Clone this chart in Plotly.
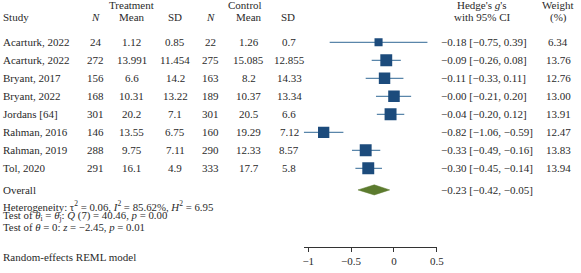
import plotly.graph_objects as go

# ---- data ----
studies = ["Acarturk, 2022", "Acarturk, 2022", "Bryant, 2017", "Bryant, 2022",
           "Jordans [64]", "Rahman, 2016", "Rahman, 2019", "Tol, 2020"]
t_n = [24, 272, 156, 168, 301, 146, 288, 291]
t_mean = ["1.12", "13.991", "6.6", "10.31", "20.2", "13.55", "9.75", "16.1"]
t_sd = ["0.85", "11.454", "14.2", "13.22", "7.1", "6.75", "7.11", "4.9"]
c_n = [22, 275, 163, 189, 301, 160, 290, 333]
c_mean = ["1.26", "15.085", "8.2", "10.37", "20.5", "19.29", "12.33", "17.7"]
c_sd = ["0.7", "12.855", "14.33", "13.34", "6.6", "7.12", "8.57", "5.8"]
g = [-0.18, -0.09, -0.11, -0.0, -0.04, -0.82, -0.33, -0.30]
lo = [-0.75, -0.26, -0.33, -0.21, -0.20, -1.06, -0.49, -0.45]
hi = [0.39, 0.08, 0.11, 0.20, 0.12, -0.59, -0.16, -0.14]
weight = [6.34, 13.76, 12.76, 13.00, 13.91, 12.47, 13.83, 13.94]
overall_g, overall_lo, overall_hi = -0.23, -0.42, -0.05
x_ticks = [-1, -0.5, 0, 0.5]
x_ticklabels = ["\u22121", "\u22120.5", "0", "0.5"]
footer = [
    "Heterogeneity: \u03c4<sup>2</sup> = 0.06, <i>I</i><sup>2</sup> = 85.62%, <i>H</i><sup>2</sup> = 6.95",
    "Test of <i>\u03b8</i><sub>i</sub> = <i>\u03b8</i><sub>j</sub>: <i>Q</i> (7) = 40.46, <i>p</i> = 0.00",
    "Test of <i>\u03b8</i> = 0: <i>z</i> = \u22122.45, <i>p</i> = 0.01",
]
model_note = "Random-effects REML model"

# ---- layout constants ----
W, H = 581, 273
FONT = "Liberation Serif"
FS = 11
TXT = "#2a2a2a"
SQ = "#1c4b7c"
LN = "#5a86aa"
DM = "#5c7b2e"
ROW0, ROWH = 42.3, 18.0  # pixel position of first row and row spacing

def px2x(p):
    return p / W

def px2y(p):
    return 1 - p / H

def fmt(v):
    return f"{v:.2f}".replace("-", "\u2212")

rows = list(range(len(studies)))
overall_row = len(studies) + 0.2

fig = go.Figure()

fig.add_trace(go.Scatter(
    x=g, y=rows, mode="markers",
    marker=dict(symbol="square", color=SQ, opacity=1,
                size=[3.2 * w ** 0.5 for w in weight], line=dict(width=0)),
    error_x=dict(type="data", symmetric=False,
                 array=[h - m for h, m in zip(hi, g)],
                 arrayminus=[m - l for m, l in zip(g, lo)],
                 color=LN, thickness=1.3, width=0),
    hoverinfo="skip", showlegend=False,
))

dh = 0.28
fig.add_trace(go.Scatter(
    x=[overall_lo, overall_g, overall_hi, overall_g, overall_lo],
    y=[overall_row, overall_row - dh, overall_row, overall_row + dh, overall_row],
    mode="lines", fill="toself", fillcolor=DM, line=dict(color=DM, width=0.5),
    hoverinfo="skip", showlegend=False,
))

ann = []

def add(text, xp, y, anchor="center", yref="y", size=FS):
    ann.append(dict(text=text, x=px2x(xp), y=y, xref="paper", yref=yref,
                    xanchor=anchor, yanchor="middle", showarrow=False,
                    borderpad=0, borderwidth=0,
                    font=dict(family=FONT, size=size, color=TXT)))

# headers
hy1, hy2 = px2y(4.5), px2y(17)
add("Treatment", 132, hy1, yref="paper")
add("Control", 247, hy1, yref="paper")
add("Hedge's <i>g</i>'s", 488, hy1, yref="paper")
add("Weight", 565, hy1, yref="paper")
add("Study", 1, hy2, "left", yref="paper")
add("<i>N</i>", 95, hy2, yref="paper")
add("Mean", 132, hy2, yref="paper")
add("SD", 176, hy2, yref="paper")
add("<i>N</i>", 212, hy2, yref="paper")
add("Mean", 250.5, hy2, yref="paper")
add("SD", 290, hy2, yref="paper")
add("with 95% CI", 488, hy2, yref="paper")
add("(%)", 565, hy2, yref="paper")

for i in rows:
    add(studies[i], 1, i, "left")
    add(str(t_n[i]), 95, i)
    add(t_mean[i], 132, i)
    add(t_sd[i], 176, i)
    add(str(c_n[i]), 212, i)
    add(c_mean[i], 250.5, i)
    add(c_sd[i], 292, i)
    add(f"{fmt(g[i])} [{fmt(lo[i])}, {fmt(hi[i])}]", 446, i, "left")
    add(f"{weight[i]:.2f}", 565, i)

add("Overall", 1, overall_row, "left")
add(f"{fmt(overall_g)} [{fmt(overall_lo)}, {fmt(overall_hi)}]", 446, overall_row, "left")

for k, line in enumerate(footer):
    add(line, 1, px2y(205.5 + 10.5 * k), "left", yref="paper", size=10.8)
add(model_note, 1, px2y(257.3), "left", yref="paper")

x_lo, x_hi = -1.05, 0.5
fig.update_layout(
    width=W, height=H, margin=dict(l=0, r=0, t=0, b=0),
    paper_bgcolor="white", plot_bgcolor="rgba(0,0,0,0)",
    annotations=ann,
    xaxis=dict(range=[x_lo, x_hi], domain=[px2x(306.7), px2x(441.7)],
               anchor="free", position=px2y(246.7),
               showgrid=False, zeroline=False, showline=True,
               linecolor="#333", linewidth=1,
               ticks="outside", ticklen=4, tickcolor="#333",
               tickvals=x_ticks, ticktext=x_ticklabels,
               tickfont=dict(family=FONT, size=FS, color=TXT)),
    yaxis=dict(range=[(H - ROW0) / ROWH, -ROW0 / ROWH], domain=[0, 1],
               visible=False),
)

fig.write_html("out.html", config={"displayModeBar": False},
               post_script="document.body.style.margin='0px';document.body.style.overflow='hidden';")
